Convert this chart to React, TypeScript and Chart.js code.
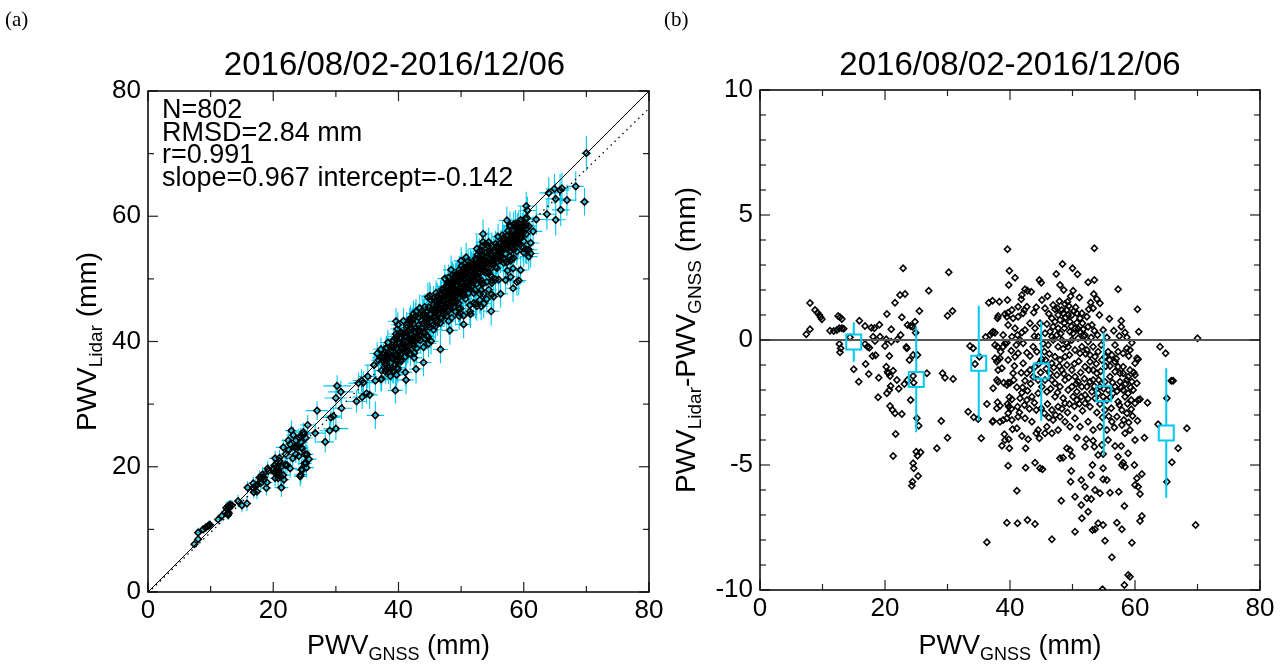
import React, { useEffect, useRef } from 'react';
import { Chart, registerables } from 'chart.js';

Chart.register(...registerables);

const SANS = '"Liberation Sans", Arial, Helvetica, sans-serif';
const SERIF = '"Liberation Serif", "Times New Roman", serif';
const CYAN = '#00c8f0';

// ---------- text ----------
const periodTitle = '2016/08/02-2016/12/06';
const panelTags = ['(a)', '(b)'];
const statsLines = ['N=802', 'RMSD=2.84 mm', 'r=0.991', 'slope=0.967 intercept=-0.142'];
type Part = [string, boolean]; // text, subscript
const xTitleParts: Part[] = [['PWV', false], ['GNSS', true], [' (mm)', false]];
const yTitleAParts: Part[] = [['PWV', false], ['Lidar', true], [' (mm)', false]];
const yTitleBParts: Part[] = [['PWV', false], ['Lidar', true], ['-PWV', false], ['GNSS', true], [' (mm)', false]];

// ---------- axes ----------
const pwvRange = [0, 80];
const pwvTickStep = 20;
const pwvMinorStep = 10;
const diffRange = [-10, 10];
const diffTickStep = 5;
const diffMinorStep = 1;

// ---------- regression ----------
const fitSlope = 0.967;
const fitIntercept = -0.142;

// ---------- binned statistics (panel b) ----------
const binCenters = [15, 25, 35, 45, 55, 65];
const binMeans = [-0.08, -1.58, -0.93, -1.24, -2.15, -3.72];
const binStd = [0.79, 2.11, 2.3, 1.99, 2.45, 2.59];

// ---------- samples: [PWV_GNSS, PWV_Lidar - PWV_GNSS, GNSS error, Lidar error] ----------
type Sample = [number, number, number, number];

const samples07to20: Sample[] = [
  [7.4, 0.23, 0.4, 0.6], [8.0, 0.43, 0.5, 0.7], [8.0, 1.48, 0.4, 0.8], [8.8, 1.2, 0.5, 0.6], [9.2, 1.09, 0.4, 0.7],
  [9.5, 1.0, 0.5, 0.6], [9.7, 0.91, 0.4, 0.8], [9.9, 0.83, 0.5, 0.7], [11.2, 0.37, 0.6, 0.8], [11.8, 0.36, 0.5, 0.9],
  [12.3, 0.4, 0.6, 0.8], [12.7, 0.47, 0.5, 1.0], [13.1, 0.47, 0.6, 0.9], [13.4, 0.45, 0.5, 0.8], [12.5, 0.96, 0.6, 1.0],
  [12.8, 0.91, 0.5, 0.9], [13.1, 0.84, 0.6, 0.8], [12.7, -0.16, 0.5, 0.9], [12.9, -0.33, 0.6, 1.0], [12.8, -0.49, 0.5, 0.8],
  [14.4, 0.11, 0.7, 1.0], [15.0, -1.17, 0.6, 1.1], [15.8, -1.67, 0.7, 1.2], [15.9, 0.77, 0.6, 1.0], [16.8, 0.56, 0.8, 1.1],
  [16.8, -0.16, 0.7, 1.2], [16.9, -0.96, 0.6, 1.0], [17.2, -0.27, 0.8, 1.1], [17.5, -0.31, 0.7, 1.0], [17.4, -1.36, 0.8, 1.2],
  [17.8, 0.49, 0.7, 1.1], [18.3, 0.47, 0.8, 1.2], [18.1, 0.13, 0.7, 1.0], [18.4, -0.04, 0.8, 1.1], [18.0, -0.64, 0.7, 1.2],
  [18.5, -0.61, 0.8, 1.0], [19.1, 0.61, 0.9, 1.2], [19.2, 0.13, 0.8, 1.1], [19.0, -1.51, 0.9, 1.3], [18.9, -2.29, 0.8, 1.2],
];

const samples20to30: Sample[] = [
  [20.0, -0.24, 0.9, 1.2], [20.2, 0.03, 0.8, 1.3], [20.3, 1.04, 1.0, 1.2], [20.2, -1.07, 0.9, 1.4], [20.4, -1.27, 0.8, 1.2],
  [20.5, -1.33, 1.0, 1.3], [20.7, -0.64, 0.9, 1.2], [21.0, -0.07, 0.8, 1.4], [21.0, 0.43, 1.0, 1.3], [20.8, -1.44, 0.9, 1.2],
  [20.9, -1.84, 1.0, 1.4], [20.3, -2.13, 0.9, 1.3], [20.7, -2.0, 0.8, 1.2], [20.8, -2.64, 1.0, 1.4], [21.2, -2.8, 0.9, 1.3],
  [21.6, -2.93, 1.0, 1.5], [21.7, -3.76, 0.9, 1.4], [21.3, -4.64, 1.1, 1.5], [21.3, -1.23, 0.9, 1.3], [21.6, 1.49, 1.2, 1.4],
  [21.9, -1.6, 0.9, 1.3], [22.0, 0.03, 1.0, 1.4], [22.2, -1.95, 0.9, 1.3], [22.4, 1.8, 1.1, 1.5], [22.5, 0.2, 1.0, 1.3],
  [22.7, 0.91, 0.9, 1.4], [22.7, -2.96, 1.1, 1.5], [22.9, 2.87, 1.0, 1.6], [23.2, 1.84, 1.1, 1.4], [23.1, -1.76, 1.0, 1.3],
  [23.4, -0.28, 0.9, 1.4], [23.5, -0.33, 1.0, 1.3], [23.6, 0.6, 1.1, 1.5], [23.6, -1.6, 1.0, 1.4], [23.9, -0.8, 0.9, 1.3],
  [24.1, -2.4, 1.1, 1.5], [24.1, 0.56, 1.0, 1.4], [24.4, 0.53, 0.9, 1.3], [24.5, -0.6, 1.0, 1.4], [24.8, 0.73, 1.1, 1.5],
  [24.9, 0.29, 1.0, 1.4], [24.5, -1.44, 1.1, 1.3], [24.6, -1.71, 1.0, 1.5], [25.2, -0.6, 1.1, 1.4], [25.1, -3.13, 1.2, 1.6],
  [25.4, -3.43, 1.0, 1.5], [25.5, 1.16, 1.2, 1.6], [25.0, -4.47, 1.1, 1.5], [25.2, -4.63, 1.0, 1.6], [25.7, -4.49, 1.2, 1.5],
  [24.5, -4.93, 1.1, 1.6], [24.6, -5.13, 1.0, 1.5], [25.3, -5.44, 1.2, 1.6], [24.4, -5.67, 1.1, 1.5], [24.3, -5.83, 1.0, 1.6],
  [26.7, -1.33, 1.5, 1.6], [27.0, 1.97, 1.8, 1.5], [28.3, -4.33, 1.4, 1.7], [29.0, -3.24, 1.6, 1.8], [29.2, -1.33, 1.5, 1.6],
  [29.6, -1.51, 1.4, 1.7],
];

const samples30to40: Sample[] = [
  [30.0, -3.91, 2.0, 1.8], [30.2, 2.71, 2.2, 1.7], [30.0, 0.97, 1.8, 1.6], [30.8, 1.16, 2.0, 1.8], [30.9, -1.56, 1.7, 1.7],
  [33.3, -2.87, 1.5, 1.8], [33.6, -0.24, 1.6, 1.7], [34.1, -0.33, 1.4, 1.8], [34.2, -3.09, 1.5, 1.9], [34.4, -0.96, 1.6, 1.8],
  [34.9, -3.16, 1.4, 1.7], [35.1, -0.67, 1.5, 1.9], [35.4, -3.93, 1.3, 2.2], [36.3, -2.56, 1.4, 1.8], [36.1, 0.12, 1.5, 1.9],
  [36.6, 1.49, 1.2, 1.8], [37.2, 1.57, 1.3, 1.9], [36.8, 0.2, 1.2, 1.8], [37.1, 0.29, 1.3, 1.7], [37.3, 0.33, 1.1, 1.9],
  [37.6, 0.29, 1.2, 1.8], [37.6, -0.2, 1.3, 1.9], [38.0, -0.27, 1.1, 1.8], [37.6, -0.73, 1.2, 1.7], [37.9, -0.87, 1.3, 1.9],
  [38.1, -0.8, 1.1, 1.8], [38.4, -0.73, 1.2, 1.9], [38.3, 1.53, 1.3, 2.0], [38.5, -0.47, 1.1, 1.8], [38.7, -1.13, 1.2, 1.9],
  [38.1, -1.67, 1.3, 1.8], [37.9, -1.6, 1.1, 1.9], [37.3, -1.93, 1.2, 1.8], [39.0, -1.71, 1.3, 2.0], [38.0, -2.49, 1.1, 1.9],
  [38.4, -2.63, 1.2, 1.8], [37.3, -3.24, 1.3, 2.0], [38.4, -3.27, 1.1, 1.9], [39.1, -3.77, 1.2, 2.0], [39.2, -4.0, 1.3, 1.9],
  [38.7, -4.23, 1.1, 2.0], [39.5, -3.13, 1.2, 1.9], [39.9, -4.33, 1.3, 2.1], [39.7, -5.03, 1.1, 2.0], [38.1, 0.96, 1.2, 1.9],
  [38.0, 0.87, 1.3, 1.8], [39.2, 1.04, 1.1, 2.0], [39.5, 0.93, 1.2, 1.9], [39.6, 3.63, 1.3, 2.1], [39.9, 2.77, 1.1, 2.0],
  [39.7, 0.6, 1.2, 1.9], [39.2, -0.13, 1.3, 1.8], [39.5, -0.11, 1.1, 2.0], [39.7, -1.71, 1.2, 1.9], [39.9, -2.29, 1.3, 2.0],
  [39.8, -2.67, 1.1, 1.9], [36.3, -8.09, 1.4, 2.2], [39.5, -7.31, 1.2, 2.1], [38.9, 0.2, 1.3, 1.9], [38.9, -0.27, 1.1, 2.0],
  [38.1, -1.2, 1.2, 1.9], [39.5, -1.8, 1.3, 2.0], [37.9, -2.73, 1.1, 1.9], [38.9, -3.2, 1.2, 2.0], [37.2, -3.27, 1.3, 1.9],
  [39.8, 2.2, 1.1, 2.0], [39.6, 1.6, 1.2, 1.9], [39.7, 1.09, 1.3, 2.0], [39.6, -2.56, 1.1, 1.9], [39.8, -3.97, 1.2, 2.0],
  [39.7, -0.8, 1.3, 1.9], [39.7, -2.93, 1.1, 2.0],
];

const samples40to50: Sample[] = [
  [40.8, 2.49, 1.2, 2.0], [40.5, 0.87, 1.1, 1.9], [41.3, 0.93, 1.3, 2.1], [42.1, 1.07, 1.2, 2.0], [42.3, 1.2, 1.1, 1.9],
  [44.2, 1.31, 1.3, 2.1], [45.6, 1.27, 1.2, 2.0], [46.7, 0.87, 1.1, 2.2], [47.2, 1.23, 1.3, 2.1], [47.6, 1.27, 1.2, 2.0],
  [48.8, 1.44, 1.1, 2.2], [49.2, 1.53, 1.3, 2.1], [49.4, 1.36, 1.2, 2.0], [49.1, 1.2, 1.1, 2.2], [48.5, 1.07, 1.3, 2.1],
  [49.9, 1.0, 1.2, 2.0], [49.6, 0.73, 1.1, 2.2], [48.7, 0.67, 1.3, 2.1], [48.0, 0.8, 1.2, 2.0], [46.9, 0.53, 1.1, 2.2],
  [47.7, 0.47, 1.3, 2.1], [45.9, 0.64, 1.2, 2.0], [46.4, 0.33, 1.1, 2.2], [48.4, 3.04, 1.3, 2.3], [47.4, 2.64, 1.2, 2.2],
  [44.7, 2.4, 1.1, 2.3], [45.0, 2.29, 1.3, 2.2], [42.4, 2.03, 1.2, 2.1], [42.8, 1.97, 1.1, 2.0], [43.4, 1.93, 1.3, 2.2],
  [41.9, 1.8, 1.2, 2.1], [41.8, 1.63, 1.1, 2.0], [48.6, 2.0, 1.3, 2.2], [40.3, 0.13, 1.2, 2.0], [41.2, 0.2, 1.1, 2.1],
  [41.6, 0.0, 1.3, 2.0], [40.2, -0.43, 1.2, 2.1], [41.3, -0.53, 1.1, 2.0], [42.1, -0.13, 1.3, 2.2], [42.7, -0.51, 1.2, 2.1],
  [43.2, -0.64, 1.1, 2.0], [44.3, -0.47, 1.3, 2.2], [43.7, -0.27, 1.2, 2.1], [44.5, 0.13, 1.1, 2.0], [46.1, -0.2, 1.3, 2.2],
  [46.9, 0.0, 1.2, 2.1], [47.7, -0.27, 1.1, 2.0], [49.1, -0.13, 1.3, 2.2], [49.9, 0.0, 1.2, 2.1], [45.5, -0.47, 1.1, 2.0],
  [45.1, -0.77, 1.3, 2.2], [45.7, -0.8, 1.2, 2.1], [40.7, -1.04, 1.1, 2.0], [41.8, -1.31, 1.3, 2.2], [42.4, -1.63, 1.2, 2.1],
  [43.2, -1.2, 1.1, 2.0], [40.0, -1.71, 1.3, 2.2], [41.1, -1.89, 1.2, 2.1], [41.9, -2.11, 1.1, 2.0], [42.8, -2.03, 1.3, 2.2],
  [40.3, -2.37, 1.2, 2.1], [41.2, -2.67, 1.1, 2.0], [42.3, -2.6, 1.3, 2.2], [43.9, -2.51, 1.2, 2.1], [44.5, -2.13, 1.1, 2.0],
  [45.9, -2.07, 1.3, 2.2], [46.7, -1.6, 1.2, 2.1], [47.5, -1.4, 1.1, 2.0], [48.3, -1.2, 1.3, 2.2], [49.1, -1.0, 1.2, 2.1],
  [49.9, -1.2, 1.1, 2.0], [49.3, -2.0, 1.3, 2.2], [48.5, -2.33, 1.2, 2.1], [47.2, -2.27, 1.1, 2.0], [47.7, -2.67, 1.3, 2.2],
  [46.0, -2.56, 1.2, 2.1], [45.0, -2.73, 1.1, 2.0], [45.5, -2.93, 1.3, 2.2], [46.7, -2.8, 1.2, 2.1], [49.5, -2.56, 1.1, 2.0],
  [41.1, -3.53, 1.3, 2.2], [40.4, -3.57, 1.2, 2.1], [41.9, -3.84, 1.1, 2.0], [42.9, -3.97, 1.3, 2.2], [42.5, -4.33, 1.2, 2.1],
  [41.1, -6.03, 1.1, 2.2], [42.5, -5.11, 1.3, 2.1], [44.0, -4.91, 1.2, 2.2], [44.7, -3.93, 1.1, 2.1], [44.2, -3.73, 1.3, 2.0],
  [45.6, -3.73, 1.2, 2.2], [46.7, -3.73, 1.1, 2.1], [44.8, -5.13, 1.3, 2.2], [45.2, -5.17, 1.2, 2.1], [48.0, -4.73, 1.1, 2.2],
  [48.5, -4.71, 1.3, 2.1], [49.1, -4.33, 1.2, 2.2], [49.6, -4.4, 1.1, 2.1], [49.9, -4.64, 1.3, 2.2], [49.8, -5.24, 1.2, 2.1],
  [49.7, -5.67, 1.1, 2.2], [48.2, -6.43, 1.3, 2.3], [46.7, -7.97, 1.2, 2.2], [42.8, -7.2, 1.1, 2.3], [44.0, -7.36, 1.3, 2.2],
  [41.2, -7.33, 1.2, 2.3], [48.3, 1.2, 1.1, 2.0], [49.3, 1.0, 1.3, 2.2], [47.7, 1.0, 1.2, 2.1], [47.2, 0.73, 1.1, 2.0],
  [48.7, 0.47, 1.3, 2.2], [49.6, 0.33, 1.2, 2.1], [48.3, 0.0, 1.1, 2.0], [47.5, 0.2, 1.3, 2.2], [46.7, 0.13, 1.2, 2.1],
  [45.6, 0.27, 1.1, 2.0], [49.3, -0.27, 1.3, 2.2], [48.8, -0.67, 1.2, 2.1], [48.0, -0.8, 1.1, 2.0], [47.2, -0.67, 1.3, 2.2],
  [46.7, -0.93, 1.2, 2.1], [46.4, -1.33, 1.1, 2.0], [45.6, -1.6, 1.3, 2.2], [45.1, -1.87, 1.2, 2.1], [47.2, -1.73, 1.1, 2.0],
  [48.0, -1.87, 1.3, 2.2], [48.8, -1.6, 1.2, 2.1], [49.9, -1.87, 1.1, 2.0], [48.8, -2.53, 1.3, 2.2], [48.0, -3.07, 1.2, 2.1],
  [48.8, -3.27, 1.1, 2.0], [49.6, -3.47, 1.3, 2.2], [47.7, -3.6, 1.2, 2.1], [46.9, -3.2, 1.1, 2.0], [45.9, -3.47, 1.3, 2.2],
  [44.5, -3.6, 1.2, 2.1], [43.5, -3.27, 1.1, 2.0], [42.4, -3.13, 1.3, 2.2], [41.3, -3.07, 1.2, 2.1], [40.3, -3.2, 1.1, 2.0],
  [40.5, -1.33, 1.3, 2.2], [40.8, -0.67, 1.2, 2.1], [42.1, -0.93, 1.1, 2.0], [42.7, -1.33, 1.3, 2.2], [43.7, -1.47, 1.2, 2.1],
  [44.0, -1.07, 1.1, 2.0], [44.5, -1.6, 1.3, 2.2], [43.5, -2.27, 1.2, 2.1], [42.7, -2.4, 1.1, 2.0], [41.6, -2.33, 1.3, 2.2],
  [40.8, 0.47, 1.2, 2.1], [42.4, 0.4, 1.1, 2.0], [43.2, 0.67, 1.3, 2.2], [44.0, 0.47, 1.2, 2.1], [44.8, 0.67, 1.1, 2.0],
  [42.7, 1.33, 1.3, 2.2], [41.3, 1.33, 1.2, 2.1], [40.3, 1.2, 1.1, 2.0],
];

const samples50to60: Sample[] = [
  [53.5, 3.67, 1.3, 2.3], [50.0, 2.87, 1.2, 2.2], [50.8, 2.63, 1.1, 2.3], [52.5, 2.31, 1.3, 2.2], [53.5, 2.4, 1.2, 2.3],
  [50.1, 1.97, 1.1, 2.2], [53.4, 1.84, 1.3, 2.3], [53.9, 1.64, 1.2, 2.2], [54.4, 1.47, 1.1, 2.3], [57.3, 2.03, 1.3, 2.2],
  [50.5, 1.31, 1.2, 2.1], [50.7, 1.07, 1.1, 2.2], [51.2, 0.87, 1.3, 2.1], [51.6, 0.67, 1.2, 2.2], [52.6, 1.23, 1.1, 2.1],
  [53.3, 1.27, 1.3, 2.2], [53.1, 0.6, 1.2, 2.1], [53.5, 0.37, 1.1, 2.2], [54.9, 0.4, 1.3, 2.1], [57.8, 0.77, 1.2, 2.2],
  [57.8, 0.53, 1.1, 2.1], [56.6, 0.37, 1.3, 2.2], [57.5, 0.16, 1.2, 2.1], [58.7, 0.11, 1.1, 2.2], [50.1, 0.27, 1.3, 2.1],
  [50.9, 0.07, 1.2, 2.2], [51.5, -0.27, 1.1, 2.1], [52.0, 0.2, 1.3, 2.2], [52.5, -0.07, 1.2, 2.1], [53.3, -0.27, 1.1, 2.2],
  [54.1, -0.47, 1.3, 2.1], [55.7, -0.47, 1.2, 2.2], [56.8, -0.2, 1.1, 2.1], [57.3, -0.47, 1.3, 2.2], [58.1, -0.53, 1.2, 2.1],
  [58.7, -0.33, 1.1, 2.2], [59.2, -0.4, 1.3, 2.1], [59.5, -0.11, 1.2, 2.2], [59.0, -0.64, 1.1, 2.1], [50.4, -1.47, 1.3, 2.2],
  [50.9, -1.67, 1.2, 2.1], [50.7, -2.4, 1.1, 2.2], [51.4, -2.27, 1.3, 2.1], [52.3, -1.87, 1.2, 2.2], [53.3, -1.6, 1.1, 2.1],
  [53.9, -1.33, 1.3, 2.2], [52.0, -1.07, 1.2, 2.1], [52.8, -0.87, 1.1, 2.2], [53.3, -1.2, 1.3, 2.1], [56.0, -1.04, 1.2, 2.2],
  [56.8, -0.87, 1.1, 2.1], [57.6, -1.33, 1.3, 2.2], [58.1, -1.07, 1.2, 2.1], [58.9, -1.47, 1.1, 2.2], [59.5, -1.67, 1.3, 2.1],
  [59.7, -2.0, 1.2, 2.2], [58.4, -2.27, 1.1, 2.1], [57.3, -2.47, 1.3, 2.2], [56.5, -2.13, 1.2, 2.1], [55.5, -2.4, 1.1, 2.2],
  [56.2, -2.73, 1.3, 2.1], [55.2, -2.8, 1.2, 2.2], [54.4, -2.56, 1.1, 2.1], [53.6, -2.33, 1.3, 2.2], [52.8, -2.67, 1.2, 2.1],
  [52.0, -2.53, 1.1, 2.2], [51.6, -2.83, 1.3, 2.1], [57.9, -2.8, 1.2, 2.2], [58.7, -2.93, 1.1, 2.1], [59.4, -2.77, 1.3, 2.2],
  [59.6, -3.04, 1.2, 2.1], [50.7, -3.91, 1.1, 2.2], [51.4, -5.6, 1.3, 2.3], [52.0, -5.87, 1.2, 2.2], [52.3, -6.33, 1.1, 2.3],
  [53.0, -6.36, 1.3, 2.2], [51.4, -6.6, 1.2, 2.3], [51.5, -7.13, 1.1, 2.2], [52.5, -6.87, 1.3, 2.3], [53.2, -7.6, 1.2, 2.2],
  [53.6, -7.57, 1.1, 2.3], [52.2, -3.97, 1.3, 2.2], [53.3, -4.03, 1.2, 2.3], [53.5, -4.27, 1.1, 2.2], [53.2, -5.0, 1.3, 2.3],
  [53.0, -5.4, 1.2, 2.2], [53.6, -6.0, 1.1, 2.3], [54.4, -6.13, 1.3, 2.2], [54.1, -4.6, 1.2, 2.3], [54.9, -4.56, 1.1, 2.2],
  [54.9, -5.13, 1.3, 2.3], [54.9, -5.57, 1.2, 2.2], [55.5, -5.6, 1.1, 2.3], [56.0, -6.11, 1.3, 2.2], [54.1, -7.33, 1.2, 2.3],
  [54.9, -7.4, 1.1, 2.2], [55.2, -8.03, 1.3, 2.3], [56.3, -8.69, 1.2, 2.2], [57.4, -6.07, 1.1, 2.3], [57.3, -4.67, 1.3, 2.2],
  [57.9, -5.0, 1.2, 2.3], [58.1, -4.91, 1.1, 2.2], [58.4, -5.07, 1.3, 2.3], [58.9, -4.53, 1.2, 2.2], [59.9, -5.0, 1.1, 2.3],
  [56.8, -4.24, 1.3, 2.2], [57.8, -4.24, 1.2, 2.3], [58.3, -6.64, 1.1, 2.2], [57.1, -7.31, 1.3, 2.3], [57.9, -7.57, 1.2, 2.2],
  [59.5, -8.11, 1.1, 2.3], [58.9, -9.4, 1.3, 2.2], [59.2, -9.47, 1.2, 2.3], [58.3, -9.8, 1.1, 2.2], [54.8, -9.97, 1.3, 2.3],
  [50.4, -7.67, 1.2, 2.2], [50.4, -6.27, 1.1, 2.3], [50.7, 0.69, 1.3, 2.2], [50.4, 0.47, 1.2, 2.1], [51.2, 0.33, 1.1, 2.2],
  [51.7, 0.43, 1.3, 2.1], [52.5, 0.53, 1.2, 2.2], [52.3, 0.93, 1.1, 2.1], [51.5, 1.07, 1.3, 2.2], [50.4, -0.4, 1.2, 2.1],
  [51.2, -0.53, 1.1, 2.2], [52.3, -0.4, 1.3, 2.1], [52.8, -0.6, 1.2, 2.2], [53.6, -0.67, 1.1, 2.1], [54.7, -0.8, 1.3, 2.2],
  [55.2, -0.67, 1.2, 2.1], [50.7, -2.07, 1.1, 2.2], [51.5, -1.87, 1.3, 2.1], [52.8, -1.67, 1.2, 2.2], [54.4, -1.87, 1.1, 2.1],
  [55.2, -1.67, 1.3, 2.2], [56.0, -1.47, 1.2, 2.1], [56.8, -1.27, 1.1, 2.2], [57.3, -1.07, 1.3, 2.1], [58.1, -1.33, 1.2, 2.2],
  [58.7, -1.6, 1.1, 2.1], [59.2, -1.2, 1.3, 2.2], [57.6, -1.67, 1.2, 2.1], [56.8, -1.87, 1.1, 2.2], [58.1, -2.0, 1.3, 2.1],
  [58.9, -2.13, 1.2, 2.2], [55.7, -2.0, 1.1, 2.1], [54.9, -2.27, 1.3, 2.2], [54.1, -2.13, 1.2, 2.1], [53.1, -2.07, 1.1, 2.2],
  [52.0, -2.2, 1.3, 2.1], [50.1, -2.27, 1.2, 2.2], [50.4, -3.13, 1.1, 2.1], [51.2, -3.47, 1.3, 2.2], [52.5, -3.27, 1.2, 2.1],
  [53.3, -3.6, 1.1, 2.2], [54.4, -3.47, 1.3, 2.1], [55.5, -3.6, 1.2, 2.2], [56.3, -3.27, 1.1, 2.1], [57.1, -3.07, 1.3, 2.2],
  [57.9, -3.4, 1.2, 2.1], [58.4, -3.73, 1.1, 2.2], [59.2, -3.6, 1.3, 2.1], [55.7, -4.0, 1.2, 2.2], [54.7, -4.2, 1.1, 2.1],
  [52.0, -4.27, 1.3, 2.2],
];

// the nearly solid core of the cloud (45-60 mm, -3.5..2 mm)
const samplesDenseCore: Sample[] = [
  [46.2, 1.05, 1.2, 2.1], [46.9, 1.4, 1.1, 2.0], [47.9, 1.55, 1.3, 2.2], [48.1, 0.25, 1.2, 2.1], [48.9, 0.9, 1.1, 2.0],
  [49.8, 0.55, 1.3, 2.2], [50.2, 1.15, 1.2, 2.1], [50.9, 0.45, 1.1, 2.0], [51.8, 0.15, 1.3, 2.2], [52.1, -0.55, 1.2, 2.1],
  [51.0, -0.85, 1.1, 2.0], [50.3, -0.95, 1.3, 2.2], [49.5, -0.6, 1.2, 2.1], [48.5, -0.35, 1.1, 2.0], [47.9, -1.05, 1.3, 2.2],
  [47.0, -1.1, 1.2, 2.1], [46.3, -0.55, 1.1, 2.0], [45.3, -0.15, 1.3, 2.2], [44.9, -1.3, 1.2, 2.1], [45.8, -1.15, 1.1, 2.0],
  [46.5, -1.95, 1.3, 2.2], [47.6, -2.1, 1.2, 2.1], [48.6, -1.35, 1.1, 2.0], [49.4, -1.5, 1.3, 2.2], [50.6, -1.75, 1.2, 2.1],
  [51.3, -1.3, 1.1, 2.0], [51.9, -1.55, 1.3, 2.2], [52.6, -1.2, 1.2, 2.1], [53.8, -0.95, 1.1, 2.0], [54.5, -1.25, 1.3, 2.2],
  [55.3, -1.05, 1.2, 2.1], [55.9, -0.8, 1.1, 2.0], [56.4, -1.7, 1.3, 2.2], [57.1, -2.05, 1.2, 2.1], [57.8, -1.9, 1.1, 2.0],
  [58.5, -1.75, 1.3, 2.2], [59.3, -1.9, 1.2, 2.1], [59.8, -1.3, 1.1, 2.0], [59.4, -2.4, 1.3, 2.2], [58.8, -2.55, 1.2, 2.1],
  [56.0, -2.3, 1.1, 2.0], [55.0, -1.95, 1.3, 2.2], [54.2, -1.6, 1.2, 2.1], [53.5, -1.85, 1.1, 2.0], [52.5, -2.35, 1.3, 2.2],
  [51.1, -2.55, 1.2, 2.1], [50.3, -2.65, 1.1, 2.0], [49.2, -2.9, 1.3, 2.2], [48.3, -2.75, 1.2, 2.1], [47.3, -3.0, 1.1, 2.0],
  [46.2, -3.1, 1.3, 2.2], [44.2, -2.8, 1.2, 2.1], [43.1, -2.75, 1.1, 2.0], [43.3, -1.75, 1.3, 2.2], [44.6, -0.95, 1.2, 2.1],
  [43.9, 0.15, 1.1, 2.0], [41.9, 0.3, 1.3, 2.2], [41.0, -0.2, 1.2, 2.1], [40.6, -1.6, 1.1, 2.0], [42.0, -1.9, 1.3, 2.2],
  [41.5, -2.9, 1.2, 2.1], [40.2, -2.75, 1.1, 2.0], [53.9, -2.9, 1.3, 2.2], [54.8, -3.1, 1.2, 2.1], [55.8, -3.05, 1.1, 2.0],
  [56.7, -3.5, 1.3, 2.2], [57.5, -2.6, 1.2, 2.1], [58.2, -3.2, 1.1, 2.0], [59.0, -3.3, 1.3, 2.2], [53.0, 0.1, 1.2, 2.1],
  [54.0, 0.2, 1.1, 2.0], [54.6, -0.2, 1.3, 2.2], [55.5, 0.1, 1.2, 2.1], [56.3, -0.6, 1.1, 2.0], [57.0, -0.75, 1.3, 2.2],
  [58.4, 0.3, 1.2, 2.1], [55.9, 0.85, 1.1, 2.0], [54.3, 1.0, 1.3, 2.2], [52.9, 1.5, 1.2, 2.1], [51.1, 1.7, 1.1, 2.0],
  [49.7, 1.75, 1.3, 2.2], [48.0, 2.2, 1.2, 2.1], [46.0, 1.75, 1.1, 2.0], [45.1, 1.6, 1.3, 2.2], [43.8, 1.1, 1.2, 2.1],
];

const samples60to70: Sample[] = [
  [60.4, 1.23, 1.4, 2.3], [60.6, 0.33, 1.3, 2.2], [64.0, -0.27, 1.5, 2.5], [64.9, -0.53, 1.4, 2.4], [70.0, 0.07, 0.8, 2.8],
  [60.3, -0.73, 1.3, 2.2], [60.5, -0.77, 1.4, 2.3], [60.0, -0.93, 1.3, 2.2], [60.3, -1.73, 1.4, 2.3], [60.0, -1.4, 1.3, 2.2],
  [60.5, -2.4, 1.4, 2.3], [60.8, -2.37, 1.3, 2.2], [62.0, -2.51, 1.6, 2.4], [60.0, -2.53, 1.3, 2.2], [60.4, -3.23, 1.4, 2.3],
  [61.5, -3.91, 1.5, 2.4], [63.7, -3.37, 1.6, 2.5], [65.8, -1.63, 1.5, 2.6], [66.1, -1.63, 1.4, 2.5], [65.1, -2.33, 1.6, 2.6],
  [68.3, -3.53, 1.3, 2.4], [66.9, -4.33, 1.5, 2.5], [65.9, -4.89, 1.4, 2.6], [65.1, -5.67, 1.6, 2.5], [69.7, -7.4, 0.8, 2.2],
  [60.3, -5.53, 1.3, 2.3], [61.1, -5.36, 1.4, 2.2], [60.0, -5.8, 1.3, 2.3], [60.8, -6.16, 1.4, 2.2], [60.5, -5.87, 1.3, 2.3],
  [60.8, -7.24, 1.4, 2.2], [61.1, -7.04, 1.3, 2.3], [60.0, -4.0, 1.4, 2.2],
];

const allSamples: Sample[] = [
  ...samples07to20, ...samples20to30, ...samples30to40, ...samples40to50, ...samples50to60,
  ...samplesDenseCore, ...samples60to70,
];

// ---------- drawing helpers ----------
function drawRich(ctx: CanvasRenderingContext2D, parts: Part[], cx: number, cy: number, size: number, subSize: number, subShift: number, rot: number) {
  ctx.save();
  ctx.translate(cx, cy);
  ctx.rotate(rot);
  ctx.textAlign = 'left';
  ctx.textBaseline = 'alphabetic';
  ctx.fillStyle = '#000';
  let total = 0;
  for (const [t, sub] of parts) {
    ctx.font = `${sub ? subSize : size}px ${SANS}`;
    total += ctx.measureText(t).width;
  }
  let x = -total / 2;
  const base = size * 0.358;
  for (const [t, sub] of parts) {
    ctx.font = `${sub ? subSize : size}px ${SANS}`;
    ctx.fillText(t, x, sub ? base + subShift : base);
    x += ctx.measureText(t).width;
  }
  ctx.restore();
}

function drawFrame(chart: any, xMinor: number, xMajor: number, yMinor: number, yMajor: number) {
  const { ctx, chartArea: a } = chart;
  const xs = chart.scales.x;
  const ys = chart.scales.y;
  ctx.save();
  ctx.strokeStyle = '#222';
  ctx.lineWidth = 1.2;
  const seg = (x1: number, y1: number, x2: number, y2: number) => {
    ctx.beginPath();
    ctx.moveTo(x1, y1);
    ctx.lineTo(x2, y2);
    ctx.stroke();
  };
  const isMajor = (v: number, step: number) => Math.abs(v / step - Math.round(v / step)) < 1e-6;
  for (let i = 0; ; i++) {
    const v = xs.min + i * xMinor;
    if (v > xs.max + 1e-9) break;
    const px = xs.getPixelForValue(v);
    const L = isMajor(v, xMajor) ? 10 : 6;
    seg(px, a.bottom, px, a.bottom - L);
    seg(px, a.top, px, a.top + L);
  }
  for (let i = 0; ; i++) {
    const v = ys.min + i * yMinor;
    if (v > ys.max + 1e-9) break;
    const py = ys.getPixelForValue(v);
    const L = isMajor(v, yMajor) ? 10 : 6;
    seg(a.left, py, a.left + L, py);
    seg(a.right, py, a.right - L, py);
  }
  ctx.strokeStyle = '#000';
  ctx.lineWidth = 1.5;
  ctx.strokeRect(a.left, a.top, a.right - a.left, a.bottom - a.top);
  ctx.restore();
}

function axisScales(min: number, max: number, step: number, isX: boolean, fitSize: number) {
  return {
    type: 'linear',
    min,
    max,
    ticks: {
      stepSize: step,
      font: { family: SANS, size: 26 },
      color: '#000',
      padding: isX ? 3 : 7,
      maxRotation: 0,
      autoSkip: false,
    },
    grid: { display: false, drawTicks: false },
    border: { display: false },
    afterFit: (s: any) => {
      if (isX) s.height = fitSize;
      else s.width = fitSize;
    },
  };
}

export default function App() {
  const refA = useRef<HTMLCanvasElement>(null);
  const refB = useRef<HTMLCanvasElement>(null);

  useEffect(() => {
    document.body.style.margin = '0';

    const lidarPoints = allSamples.map((s) => ({ x: s[0], y: s[0] + s[1] }));
    const diffPoints = allSamples.map((s) => ({ x: s[0], y: s[1] }));
    const binPoints = binCenters.map((c, i) => ({ x: c, y: binMeans[i] }));

    const errorBarsPlugin = {
      id: 'errorBarsA',
      beforeDatasetsDraw(chart: any) {
        const { ctx, chartArea: a } = chart;
        const xs = chart.scales.x;
        const ys = chart.scales.y;
        ctx.save();
        ctx.beginPath();
        ctx.rect(a.left, a.top, a.right - a.left, a.bottom - a.top);
        ctx.clip();
        ctx.strokeStyle = CYAN;
        ctx.lineWidth = 1.1;
        ctx.beginPath();
        for (const s of allSamples) {
          const g = s[0];
          const l = s[0] + s[1];
          const px = xs.getPixelForValue(g);
          const py = ys.getPixelForValue(l);
          ctx.moveTo(xs.getPixelForValue(g - s[2]), py);
          ctx.lineTo(xs.getPixelForValue(g + s[2]), py);
          ctx.moveTo(px, ys.getPixelForValue(l - s[3]));
          ctx.lineTo(px, ys.getPixelForValue(l + s[3]));
        }
        ctx.stroke();
        ctx.restore();
      },
    };

    const decorA = {
      id: 'decorA',
      afterDatasetsDraw(chart: any) {
        drawFrame(chart, pwvMinorStep, pwvTickStep, pwvMinorStep, pwvTickStep);
      },
      afterDraw(chart: any) {
        const { ctx, chartArea: a } = chart;
        const cx = (a.left + a.right) / 2;
        ctx.save();
        ctx.fillStyle = '#000';
        ctx.textAlign = 'center';
        ctx.textBaseline = 'alphabetic';
        ctx.font = `33px ${SANS}`;
        ctx.fillText(periodTitle, cx - 4, 75);
        ctx.textAlign = 'left';
        ctx.font = `21px ${SERIF}`;
        ctx.fillText(panelTags[0], 5, 26);
        ctx.font = `27px ${SANS}`;
        statsLines.forEach((t, i) => ctx.fillText(t, a.left + 14, 118 + i * 22.7));
        ctx.restore();
        drawRich(ctx, xTitleParts, cx, 644, 27, 18, 6, 0);
        drawRich(ctx, yTitleAParts, 86, (a.top + a.bottom) / 2, 28, 19, 6, -Math.PI / 2);
      },
    };

    const decorB = {
      id: 'decorB',
      afterDatasetsDraw(chart: any) {
        const { ctx, chartArea: a } = chart;
        const xs = chart.scales.x;
        const ys = chart.scales.y;
        ctx.save();
        ctx.beginPath();
        ctx.rect(a.left, a.top, a.right - a.left, a.bottom - a.top);
        ctx.clip();
        ctx.strokeStyle = CYAN;
        ctx.lineWidth = 2;
        const half = 7.5;
        binCenters.forEach((c, i) => {
          const px = xs.getPixelForValue(c);
          const pm = ys.getPixelForValue(binMeans[i]);
          const pTop = ys.getPixelForValue(binMeans[i] + binStd[i]);
          const pBot = ys.getPixelForValue(binMeans[i] - binStd[i]);
          ctx.beginPath();
          ctx.moveTo(px, pTop);
          ctx.lineTo(px, pm - half);
          ctx.moveTo(px, pm + half);
          ctx.lineTo(px, pBot);
          ctx.stroke();
        });
        ctx.restore();
        drawFrame(chart, pwvMinorStep, pwvTickStep, diffMinorStep, diffTickStep);
      },
      afterDraw(chart: any) {
        const { ctx, chartArea: a } = chart;
        const cx = (a.left + a.right) / 2;
        ctx.save();
        ctx.fillStyle = '#000';
        ctx.textAlign = 'center';
        ctx.textBaseline = 'alphabetic';
        ctx.font = `33px ${SANS}`;
        ctx.fillText(periodTitle, cx, 75);
        ctx.textAlign = 'left';
        ctx.font = `21px ${SERIF}`;
        ctx.fillText(panelTags[1], 9, 26);
        ctx.restore();
        drawRich(ctx, xTitleParts, cx, 644, 27, 18, 6, 0);
        drawRich(ctx, yTitleBParts, 30, (a.top + a.bottom) / 2, 28, 19, 6, -Math.PI / 2);
      },
    };

    const commonOpts = {
      animation: false,
      responsive: false,
      devicePixelRatio: 1,
      events: [],
      plugins: { legend: { display: false }, tooltip: { enabled: false }, title: { display: false } },
    };

    const chartA = new Chart(refA.current as HTMLCanvasElement, {
      type: 'scatter',
      data: {
        datasets: [
          {
            label: '1:1',
            data: [{ x: pwvRange[0], y: pwvRange[0] }, { x: pwvRange[1], y: pwvRange[1] }],
            showLine: true,
            borderColor: '#000',
            borderWidth: 1,
            pointRadius: 0,
            order: 1,
          },
          {
            label: 'fit',
            data: [
              { x: pwvRange[0], y: fitSlope * pwvRange[0] + fitIntercept },
              { x: pwvRange[1], y: fitSlope * pwvRange[1] + fitIntercept },
            ],
            showLine: true,
            borderColor: '#000',
            borderWidth: 1.3,
            borderDash: [1.5, 4],
            pointRadius: 0,
            order: 1,
          },
          {
            label: 'PWV',
            data: lidarPoints,
            pointStyle: 'rectRot',
            pointRadius: 3.2,
            borderColor: '#000',
            borderWidth: 1.6,
            backgroundColor: 'rgba(0,0,0,0)',
            order: 2,
          },
        ],
      } as any,
      options: {
        ...commonOpts,
        layout: { padding: { left: 0, top: 91, right: 51, bottom: 0 } },
        scales: {
          x: axisScales(pwvRange[0], pwvRange[1], pwvTickStep, true, 74),
          y: axisScales(pwvRange[0], pwvRange[1], pwvTickStep, false, 148),
        },
      } as any,
      plugins: [errorBarsPlugin, decorA],
    });

    const chartB = new Chart(refB.current as HTMLCanvasElement, {
      type: 'scatter',
      data: {
        datasets: [
          {
            label: 'bins',
            data: binPoints,
            pointStyle: 'rect',
            pointRadius: 10.6,
            borderColor: CYAN,
            borderWidth: 2,
            backgroundColor: 'rgba(0,0,0,0)',
            order: 0,
          },
          {
            label: 'zero',
            data: [{ x: pwvRange[0], y: 0 }, { x: pwvRange[1], y: 0 }],
            showLine: true,
            borderColor: '#555',
            borderWidth: 2,
            pointRadius: 0,
            order: 1,
          },
          {
            label: 'diff',
            data: diffPoints,
            pointStyle: 'rectRot',
            pointRadius: 3,
            borderColor: '#000',
            borderWidth: 1.6,
            backgroundColor: 'rgba(0,0,0,0)',
            order: 2,
          },
        ],
      } as any,
      options: {
        ...commonOpts,
        layout: { padding: { left: 0, top: 90, right: 24, bottom: 0 } },
        scales: {
          x: axisScales(pwvRange[0], pwvRange[1], pwvTickStep, true, 76),
          y: axisScales(diffRange[0], diffRange[1], diffTickStep, false, 105),
        },
      } as any,
      plugins: [decorB],
    });

    return () => {
      chartA.destroy();
      chartB.destroy();
    };
  }, []);

  return (
    <div style={{ position: 'absolute', left: 0, top: 0, width: 1284, height: 666, background: '#fff' }}>
      <canvas ref={refA} width={700} height={666} style={{ position: 'absolute', left: 0, top: 0 }} />
      <canvas ref={refB} width={629} height={666} style={{ position: 'absolute', left: 655, top: 0 }} />
    </div>
  );
}
